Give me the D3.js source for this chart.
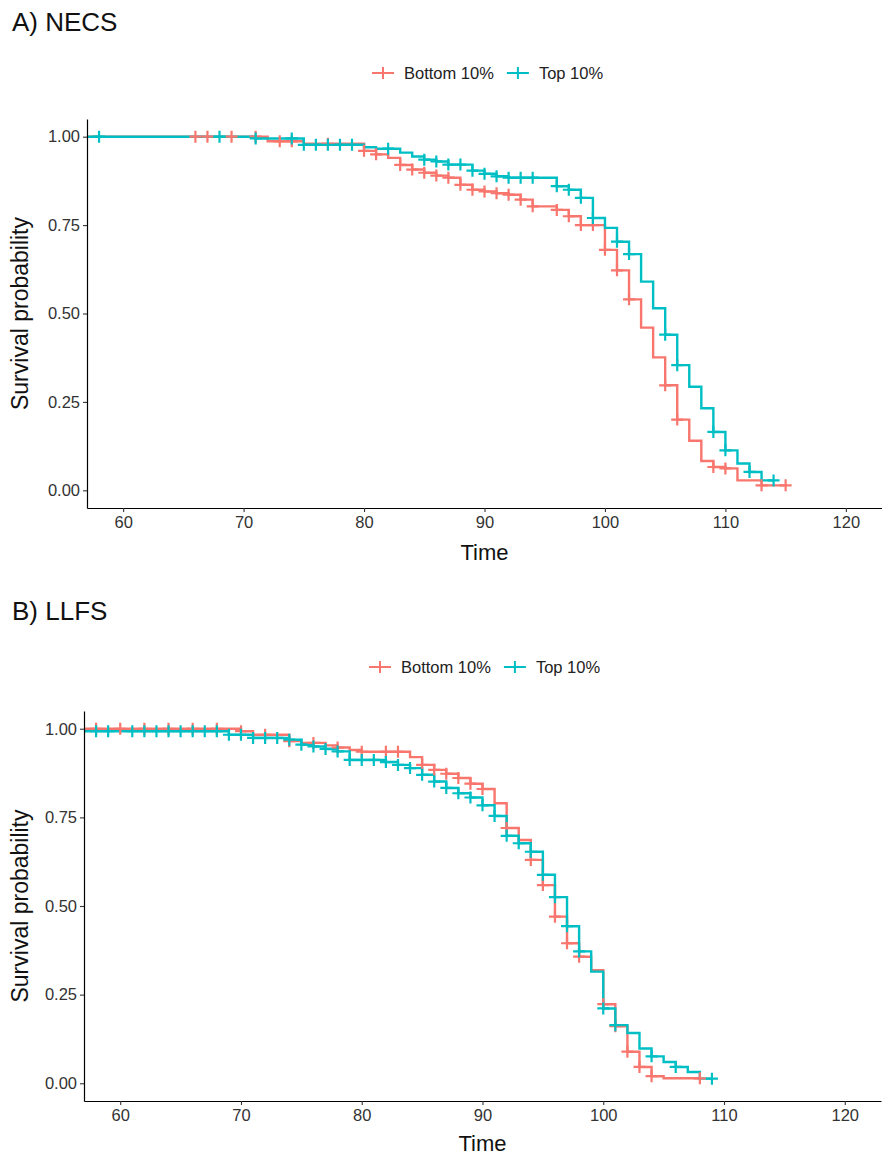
<!DOCTYPE html>
<html>
<head>
<meta charset="utf-8">
<script src="https://cdn.jsdelivr.net/npm/d3@7"></script>
<style>
body { margin: 0; background: #fff; }
svg text { font-family: "Liberation Sans", Arial, sans-serif; }
</style>
</head>
<body>
<svg id="chart" width="882" height="1157"></svg>
<script>
const xTicks = [60, 70, 80, 90, 100, 110, 120];
const yTicks = [0, 0.25, 0.5, 0.75, 1];
const groups = ["Bottom 10%", "Top 10%"];
const colors = ["#F8766D", "#00BFC4"];

// A) NECS
const necsBottomTime = [0, 72, 75, 80, 81, 82, 83, 84, 85, 86, 87, 88, 89, 90, 91, 92, 93, 94, 96, 97, 98, 100, 101, 102, 103, 104, 105, 106, 107, 108, 109, 110, 111, 113];
const necsBottomSurv = [1, 0.987, 0.98, 0.96, 0.95, 0.94, 0.92, 0.907, 0.898, 0.89, 0.884, 0.864, 0.85, 0.845, 0.84, 0.836, 0.822, 0.803, 0.793, 0.775, 0.75, 0.68, 0.622, 0.54, 0.46, 0.376, 0.297, 0.2, 0.14, 0.083, 0.066, 0.062, 0.028, 0.014];
const necsBottomCensor = [66, 67, 69, 71, 73, 74, 77, 80, 81, 83, 84, 85, 86, 87, 88, 89, 90, 91, 92, 93, 94, 96, 97, 98, 99, 100, 101, 102, 105, 106, 109, 110, 113, 115];
const necsBottomEnd = 115;

const necsTopTime = [0, 71, 75, 80, 81, 83, 84, 85, 86, 87, 89, 90, 91, 92, 96, 97, 98, 99, 100, 101, 102, 103, 104, 105, 106, 107, 108, 109, 110, 111, 112, 113];
const necsTopSurv = [1, 0.995, 0.977, 0.97, 0.966, 0.955, 0.944, 0.935, 0.93, 0.921, 0.904, 0.895, 0.888, 0.884, 0.86, 0.85, 0.827, 0.77, 0.742, 0.703, 0.668, 0.59, 0.515, 0.44, 0.354, 0.293, 0.232, 0.165, 0.113, 0.076, 0.052, 0.028];
const necsTopCensor = [58, 68, 71, 74, 75, 76, 77, 78, 79, 82, 85, 86, 87, 88, 89, 90, 91, 92, 93, 94, 96, 97, 98, 99, 101, 102, 105, 106, 109, 110, 112, 114];
const necsTopEnd = 114;

// B) LLFS
const llfsBottomTime = [0, 70, 71, 74, 75, 77, 78, 79, 80, 84, 85, 86, 87, 88, 89, 90, 91, 92, 93, 94, 95, 96, 97, 98, 99, 100, 101, 102, 103, 104, 105];
const llfsBottomSurv = [1, 0.993, 0.983, 0.965, 0.96, 0.953, 0.947, 0.94, 0.935, 0.92, 0.898, 0.884, 0.873, 0.861, 0.845, 0.83, 0.79, 0.72, 0.686, 0.63, 0.559, 0.47, 0.395, 0.357, 0.319, 0.223, 0.161, 0.089, 0.046, 0.02, 0.014];
const llfsBottomCensor = [58, 60, 62, 64, 66, 68, 70, 72, 74, 76, 78, 80, 82, 83, 85, 86, 87, 88, 89, 90, 92, 94, 95, 96, 97, 98, 100, 101, 102, 103, 104, 108];
const llfsBottomEnd = 108;

const llfsTopTime = [0, 69, 71, 74, 75, 76, 77, 78, 79, 82, 83, 84, 85, 86, 87, 88, 89, 90, 91, 92, 93, 94, 95, 96, 97, 98, 99, 100, 101, 102, 103, 104, 105, 106, 107, 108];
const llfsTopSurv = [0.993, 0.983, 0.974, 0.969, 0.955, 0.95, 0.943, 0.936, 0.912, 0.906, 0.898, 0.889, 0.87, 0.851, 0.833, 0.818, 0.806, 0.784, 0.754, 0.698, 0.677, 0.653, 0.588, 0.525, 0.443, 0.372, 0.315, 0.211, 0.164, 0.142, 0.098, 0.076, 0.06, 0.046, 0.032, 0.013];
const llfsTopCensor = [58, 59, 61, 62, 63, 64, 65, 66, 67, 68, 69, 70, 71, 72, 73, 74, 75, 76, 77, 78, 79, 80, 81, 82, 83, 84, 85, 86, 87, 88, 89, 90, 91, 92, 93, 94, 95, 96, 97, 98, 100, 101, 104, 106, 109];
const llfsTopEnd = 109;

const panels = [
  { title: "A) NECS", titleY: 31, legendX: 383, legendY: 73, left: 87, right: 882, top: 119, bottom: 508, timeY: 560,
    series: [
      { time: necsBottomTime, surv: necsBottomSurv, censor: necsBottomCensor, end: necsBottomEnd },
      { time: necsTopTime, surv: necsTopSurv, censor: necsTopCensor, end: necsTopEnd }
    ] },
  { title: "B) LLFS", titleY: 620, legendX: 380, legendY: 667, left: 84, right: 881, top: 711, bottom: 1101, timeY: 1151,
    series: [
      { time: llfsBottomTime, surv: llfsBottomSurv, censor: llfsBottomCensor, end: llfsBottomEnd },
      { time: llfsTopTime, surv: llfsTopSurv, censor: llfsTopCensor, end: llfsTopEnd }
    ] }
];

const svg = d3.select("#chart");
const crossPath = "M-6,0H6M0,-6V6";

panels.forEach((p, pi) => {
  const x = d3.scaleLinear().domain([57, 123]).range([p.left, p.right]);
  const y = d3.scaleLinear().domain([-0.05, 1.05]).range([p.bottom, p.top]);

  svg.append("text")
    .attr("x", 12).attr("y", p.titleY)
    .attr("font-size", 26).attr("fill", "#111")
    .text(p.title);

  // legend
  const leg = svg.append("g");
  let lx = p.legendX;
  groups.forEach((g, i) => {
    const k = leg.append("g").attr("transform", `translate(${lx},${p.legendY})`);
    k.append("line").attr("x1", -11).attr("x2", 11).attr("stroke", colors[i]).attr("stroke-width", 2);
    k.append("path").attr("d", crossPath).attr("stroke", colors[i]).attr("stroke-width", 2);
    const t = leg.append("text")
      .attr("x", lx + 21).attr("y", p.legendY + 6)
      .attr("font-size", 16.5).attr("fill", "#222")
      .text(g);
    lx += 21 + t.node().getComputedTextLength() + 24;
  });

  const clipId = "clip" + pi;
  svg.append("clipPath").attr("id", clipId)
    .append("rect").attr("x", p.left).attr("y", p.top - 6)
    .attr("width", p.right - p.left).attr("height", p.bottom - p.top + 6);

  const plot = svg.append("g").attr("clip-path", `url(#${clipId})`);
  const line = d3.line().x(d => x(d[0])).y(d => y(d[1])).curve(d3.curveStepAfter);

  p.series.forEach((s, i) => {
    const pts = s.time.map((t, j) => [t, s.surv[j]]);
    pts.push([s.end, s.surv[s.surv.length - 1]]);
    plot.append("path").datum(pts)
      .attr("d", line).attr("fill", "none")
      .attr("stroke", colors[i]).attr("stroke-width", 2.4);
  });

  p.series.forEach((s, i) => {
    const survAt = t => {
      let v = s.surv[0];
      s.time.forEach((tt, j) => { if (tt <= t) v = s.surv[j]; });
      return v;
    };
    plot.selectAll(null).data(s.censor).enter().append("path")
      .attr("transform", d => `translate(${x(d)},${y(survAt(d))})`)
      .attr("d", crossPath).attr("fill", "none")
      .attr("stroke", colors[i]).attr("stroke-width", 2.2);
  });

  const xAxis = svg.append("g").attr("transform", `translate(0,${p.bottom})`)
    .call(d3.axisBottom(x).tickValues(xTicks).tickSize(4).tickSizeOuter(0).tickPadding(4));
  const yAxis = svg.append("g").attr("transform", `translate(${p.left},0)`)
    .call(d3.axisLeft(y).tickValues(yTicks).tickFormat(d3.format(".2f")).tickSize(4).tickSizeOuter(0).tickPadding(3));
  [xAxis, yAxis].forEach(a => {
    a.select(".domain").attr("stroke", "#000").attr("stroke-width", 1.2);
    a.selectAll(".tick line").attr("stroke", "#333").attr("stroke-width", 1.1);
    a.selectAll(".tick text").attr("font-size", 16.5).attr("fill", "#333")
      .attr("font-family", "'Liberation Sans',Arial,sans-serif");
  });

  svg.append("text")
    .attr("x", (p.left + p.right) / 2).attr("y", p.timeY)
    .attr("text-anchor", "middle").attr("font-size", 22).attr("fill", "#111")
    .text("Time");

  svg.append("text")
    .attr("transform", `translate(28,${(p.top + p.bottom) / 2}) rotate(-90)`)
    .attr("text-anchor", "middle").attr("font-size", 23).attr("fill", "#111")
    .text("Survival probability");
});
</script>
</body>
</html>
